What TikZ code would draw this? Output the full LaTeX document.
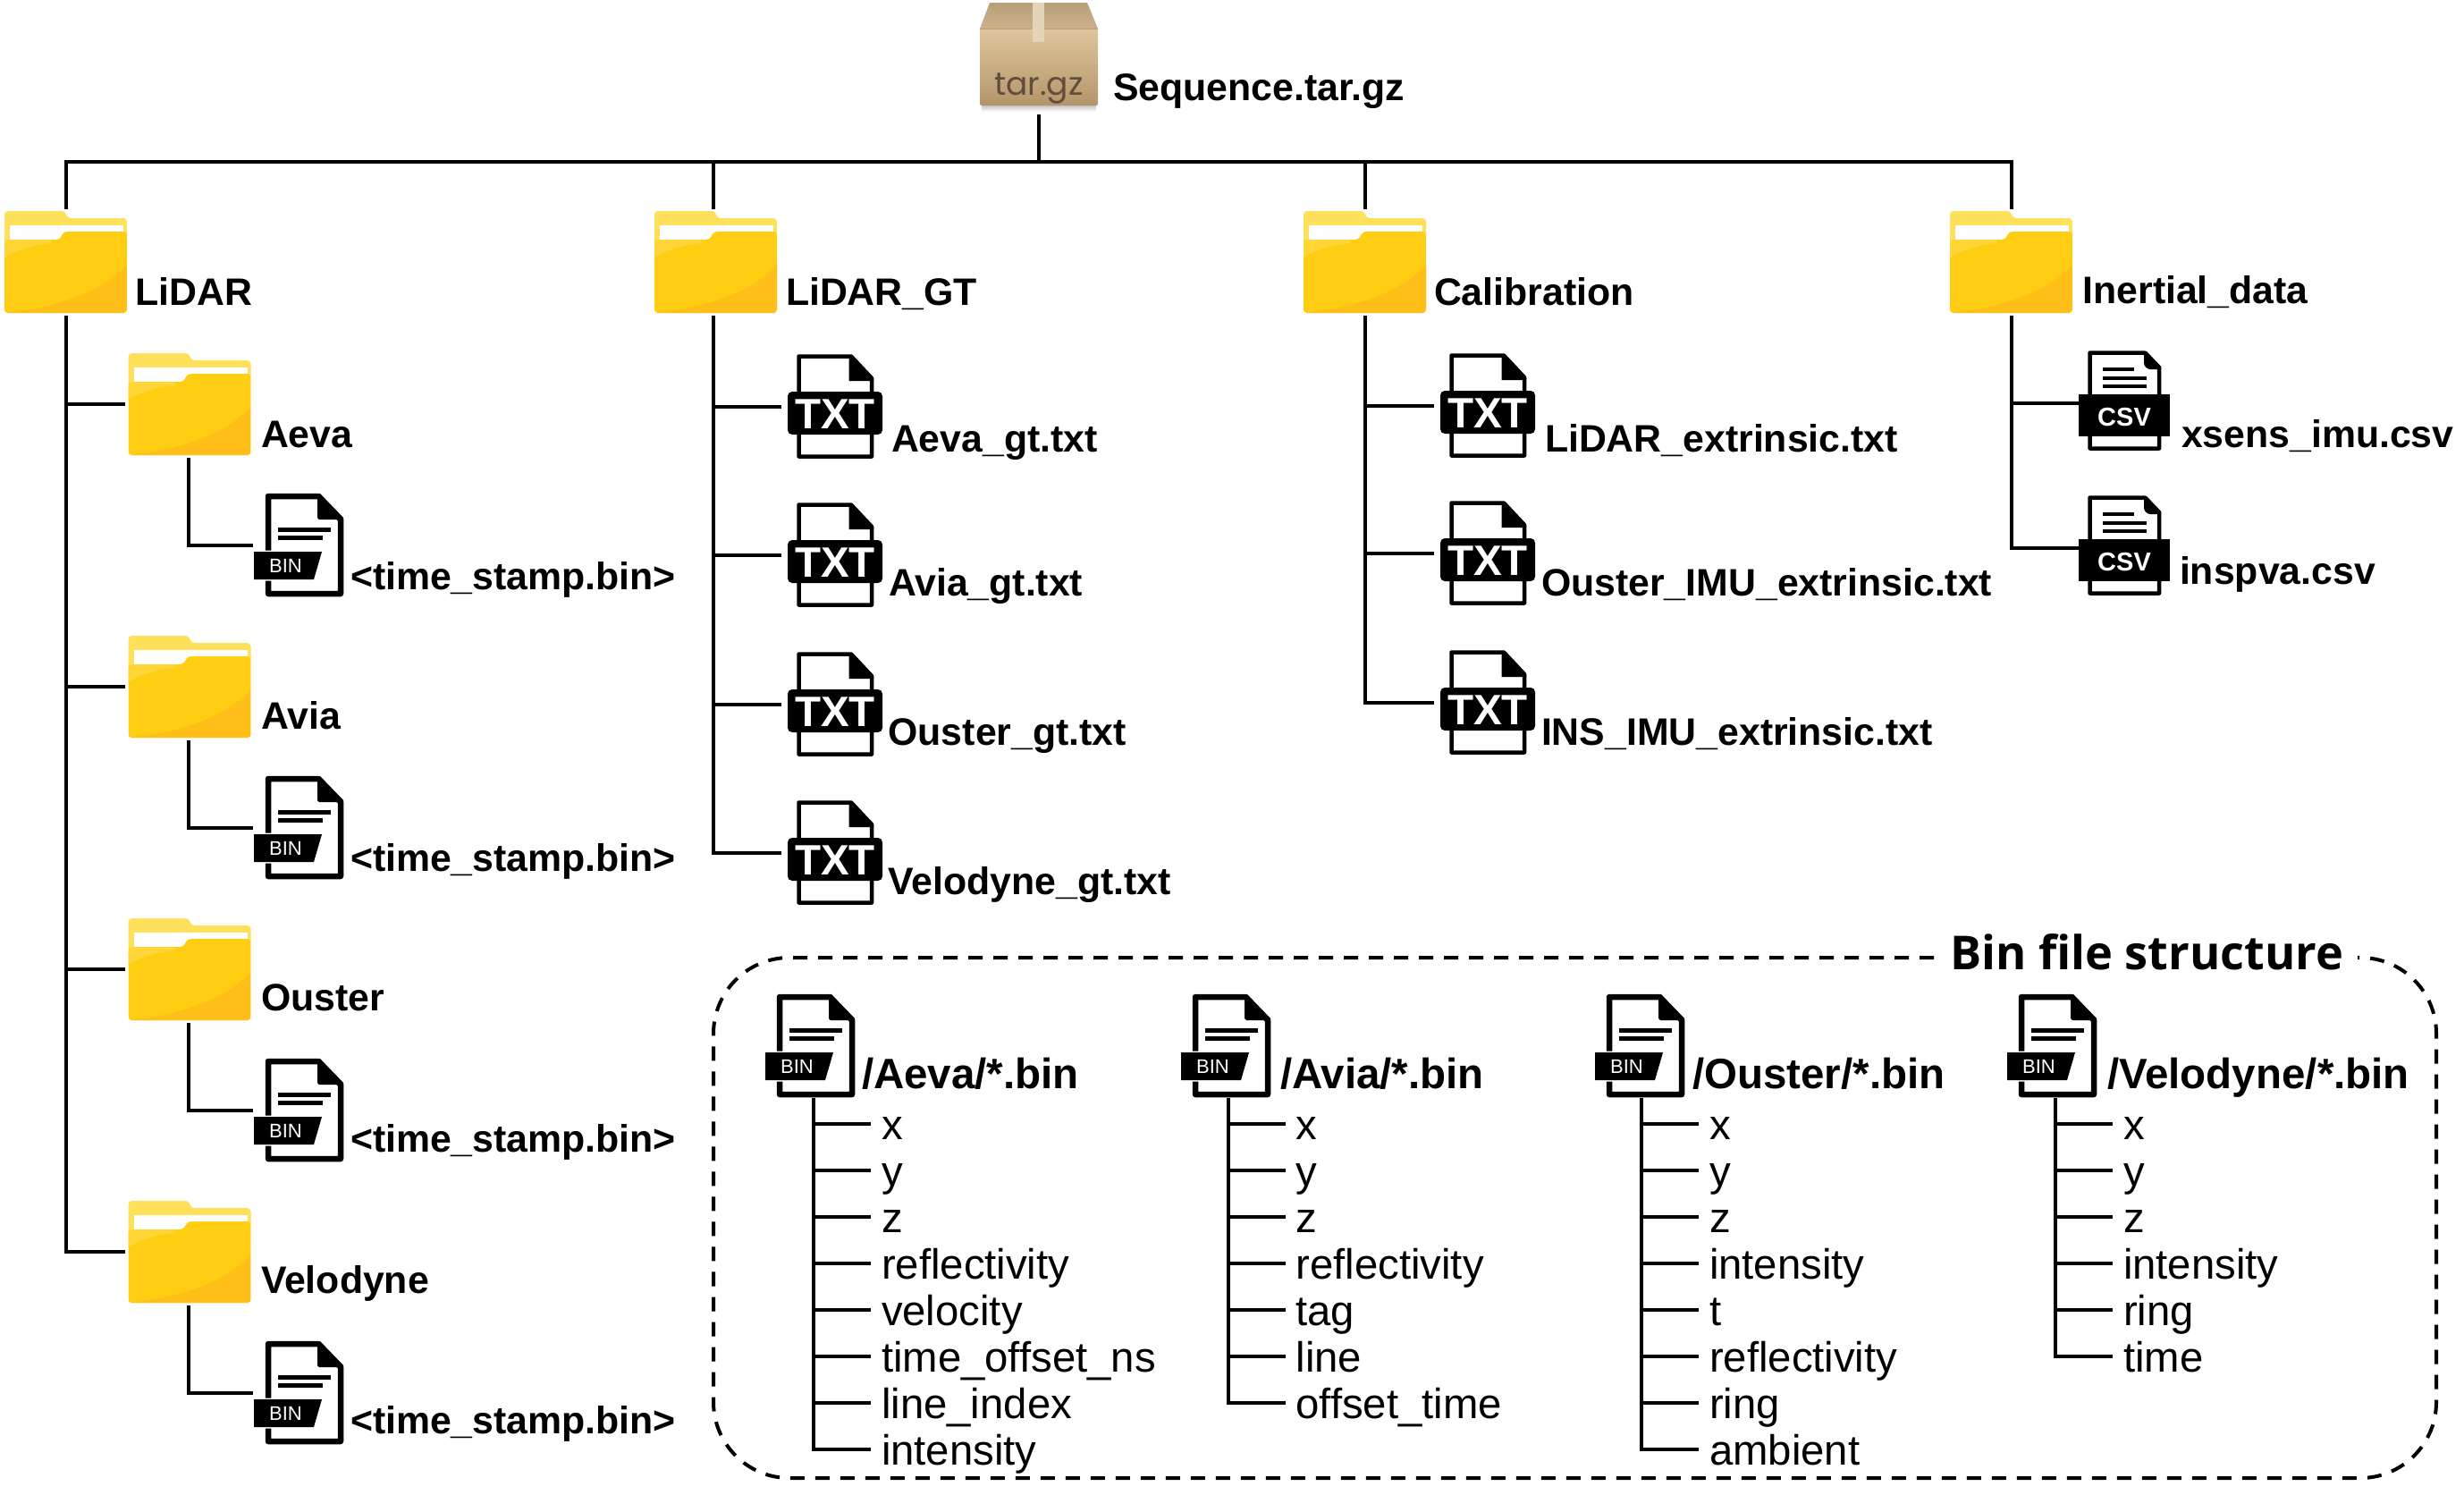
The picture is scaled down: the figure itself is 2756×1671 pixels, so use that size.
\documentclass[tikz,border=0pt]{standalone}
\usepackage{fontspec}
\setmainfont{Liberation Sans}
\newfontfamily\ttlfont{Open Sans}
\newfontfamily\pkgfont{Poppins}
\usetikzlibrary{calc}
\definecolor{fback}{HTML}{FFE05A}
\definecolor{ffront}{HTML}{FFCE12}
\definecolor{fdark}{HTML}{FFBE18}
\definecolor{flight}{HTML}{FFD636}
\definecolor{boxA}{HTML}{B99F78}
\definecolor{boxB}{HTML}{CBB28B}
\definecolor{boxC}{HTML}{DFC69C}
\definecolor{boxD}{HTML}{B4956B}
\definecolor{boxE}{HTML}{E4D5B9}
\definecolor{boxT}{HTML}{5F4E38}
\newcommand\labfont{\fontsize{42.8}{50}\selectfont\bfseries}
\newcommand\headfont{\fontsize{47.5}{54}\selectfont\bfseries}
\newcommand\itemfont{\fontsize{47.3}{54}\selectfont}
\tikzset{
  conn/.style={draw=black,line width=4pt},
  iconbox/.style={inner sep=0pt,outer sep=0pt,anchor=north west},
  lab/.style={anchor=base west,inner sep=0pt,outer sep=0pt,font=\labfont},
  head/.style={anchor=base west,inner sep=0pt,outer sep=0pt,font=\headfont},
  itemtxt/.style={anchor=base west,inner sep=0pt,outer sep=0pt,font=\itemfont,text height=40pt,text depth=4pt},
  frame/.style={draw=black,line width=4pt,dash pattern=on 16pt off 12pt,rounded corners=85pt},
}
% folder icon: name, left, top
\newcommand\fldr[3]{%
  \node[iconbox,minimum width=137pt,minimum height=114pt] (#1) at (#2,#3) {};
  \begin{scope}[shift={(#2,#3)}]
    \fill[fback,rounded corners=4pt] (0,114)--(0,0)--(68,0)--(70,8)--(137,8)--(137,114)--cycle;
    \fill[white] (6,16) rectangle (133,33);
    \begin{scope}
      \clip[rounded corners=4pt] (0,114)--(0,32)--(62,32)--(66,23)--(137,23)--(137,114)--cycle;
      \fill[ffront] (0,0) rectangle (137,114);
      \fill[flight] (0,32)--(52,32)--(52,36) .. controls (30,38) and (10,45) .. (0,52)--cycle;
      \fill[fdark] (0,114) .. controls (60,108) and (110,90) .. (137,60)--(137,114)--cycle;
    \end{scope}
  \end{scope}}
% BIN file icon: name, ribbon left, top
\newcommand\binic[3]{%
  \node[iconbox,minimum width=100pt,minimum height=115pt] (#1) at (#2,#3) {};
  \begin{scope}[shift={(#2,#3)}]
    \draw[line width=6.5pt,line join=round] (16,112)--(16,3)--(72,3)--(97,29)--(97,112)--cycle;
    \fill (71,0)--(74,0)--(100,27)--(100,29)--(73,29)--(71,27)--cycle;
    \fill (27,38) rectangle (86,42.5);
    \fill (27,47) rectangle (77,51.5);
    \draw[white,line width=3pt] (0,65)--(76,65)--(67,96)--(0,96)--cycle;
    \fill (0,65)--(76,65)--(67,96)--(0,96)--cycle;
    \node[inner sep=0pt,text=white,font=\fontsize{22}{24}\selectfont] at (35.5,81) {BIN};
  \end{scope}}
% TXT file icon: name, left, top
\newcommand\txtic[3]{%
  \node[iconbox,minimum width=106pt,minimum height=117pt] (#1) at (#2,#3) {};
  \begin{scope}[shift={(#2,#3)}]
    \draw[line width=4.5pt,line join=round] (12.5,114.5)--(12.5,2.5)--(71,2.5)--(94,27)--(94,114.5)--cycle;
    \fill (68.5,1)--(72,1)--(96,27)--(96,30)--(68.5,30)--cycle;
    \fill[rounded corners=5pt] (0,42) rectangle (106,90);
    \node[anchor=base,inner sep=0pt,text=white,font=\fontsize{47.5}{50}\selectfont\bfseries] at (53,83) {TXT};
  \end{scope}}
% CSV file icon: name, left, top
\newcommand\csvic[3]{%
  \node[iconbox,minimum width=102pt,minimum height=112pt] (#1) at (#2,#3) {};
  \begin{scope}[shift={(#2,#3)}]
    \draw[line width=4.5pt,line join=round] (12.5,109.5)--(12.5,2.5)--(74,2.5)--(90,19)--(90,109.5)--cycle;
    \fill (73,1)--(76,1)--(92,18)--(92,21)--(80,21) .. controls (76,21) and (73,17) .. (73,14)--cycle;
    \fill (27,19) rectangle (62,23);
    \fill (27,29) rectangle (76,33);
    \fill (27,38) rectangle (76,42);
    \fill (0,49) rectangle (102,96);
    \node[anchor=base,inner sep=0pt,text=white,font=\fontsize{29}{31}\selectfont\bfseries] at (51,84) {CSV};
  \end{scope}}
% field list: id, ribbon left, head x, head text, trunk x, items (item text sits 76 right of the trunk)
\newcommand\fieldlist[6]{%
  \binic{#1}{#2}{1112}
  \node[head] (#1h) at (#3,1217) {#4};
  \coordinate (#1t) at (#5,1228);
  \foreach \itm [count=\ii] in {#6} {
    \pgfmathsetmacro\yy{1274.5+52*(\ii-1)}
    \node[itemtxt] (#1-\ii) at ($(#1t |- 0,\yy)+(76,0)$) {\itm};
    \draw[conn] (#1t) |- ([xshift=-12pt]#1-\ii.west);
  }}
\begin{document}
\begin{tikzpicture}[x=1pt,y=-1pt]
\useasboundingbox (0,0) rectangle (2756,1671);
\fill[white] (0,0) rectangle (2756,1671);

% package
\node[iconbox,minimum width=132pt,minimum height=115pt] (seq) at (1096,3) {};
\shade[top color=gray!45,bottom color=white] (1098,118) rectangle (1226,125);
\shade[top color=boxC,bottom color=boxD,rounded corners=2pt] (1096,32) rectangle (1228,118);
\shade[top color=boxA,bottom color=boxB] (1107,3)--(1216,3)--(1228,32)--(1096,32)--cycle;
\draw[boxD!85!white,line width=1.2pt] (1096,32)--(1228,32);
\fill[boxE] (1155,3) rectangle (1168,47);
\node[anchor=base,inner sep=0pt,text=boxT,font=\pkgfont\fontsize{36}{38}\selectfont] (pk) at (1162,106) {tar.gz};
\node[lab] (seqlab) at (1245,112) {Sequence.tar.gz};

% folders, first level
\fldr{lidar}{5}{236}
\fldr{gt}{732}{236}
\fldr{calib}{1458}{236}
\fldr{inert}{2181}{236}
\node[lab] (llidar) at (151.5,341) {LiDAR};
\node[lab] (lgt) at (879,341) {LiDAR\_GT};
\node[lab] (lcalib) at (1604,341) {Calibration};
\node[lab] (linert) at (2329.5,339) {Inertial\_data};

\coordinate (bus) at (1162,181);
\draw[conn] ([yshift=-10pt]seq.south) -- (seq.south |- bus);
\draw[conn] ([yshift=2pt]lidar.north) |- (bus) -| ([yshift=2pt]inert.north);
\draw[conn] ([xshift=-2.5pt,yshift=2pt]gt.north) -- ([xshift=-2.5pt]gt.north |- bus);
\draw[conn] ([yshift=2pt]calib.north) -- (calib.north |- bus);

% LiDAR subfolders
\fldr{aeva}{143.5}{395}
\fldr{avia}{143.5}{711}
\fldr{ouster}{143.5}{1027}
\fldr{velo}{143.5}{1343}
\node[lab] (laeva) at (292,500) {Aeva};
\node[lab] (lavia) at (292,815.5) {Avia};
\node[lab] (louster) at (292,1130) {Ouster};
\node[lab] (lvelo) at (292,1446) {Velodyne};
\binic{baeva}{284}{552}
\binic{bavia}{284}{868}
\binic{bouster}{284}{1184}
\binic{bvelo}{284}{1500}
\node[lab] (sa) at (392,659) {<time\_stamp.bin>};
\node[lab] (sb) at (392,974) {<time\_stamp.bin>};
\node[lab] (sc) at (392,1288.5) {<time\_stamp.bin>};
\node[lab] (sd) at (392,1603.5) {<time\_stamp.bin>};
\foreach \fdn/\bnm in {aeva/baeva,avia/bavia,ouster/bouster,velo/bvelo} {
  \draw[conn] ([yshift=-3pt]lidar.south) |- ([xshift=-4pt]\fdn.west);
  \draw[conn] ([xshift=-1.5pt,yshift=-3pt]\fdn.south) |- ([xshift=-1pt]\bnm.west);
}

% LiDAR_GT files
\txtic{ga}{881}{396}
\txtic{gb}{881}{562}
\txtic{gc}{881}{729}
\txtic{gd}{881}{895}
\node[lab] (lga) at (997,505) {Aeva\_gt.txt};
\node[lab] (lgb) at (994,666) {Avia\_gt.txt};
\node[lab] (lgc) at (993.5,833) {Ouster\_gt.txt};
\node[lab] (lgd) at (993.5,1000) {Velodyne\_gt.txt};
\foreach \fnm in {ga,gb,gc,gd} {
  \draw[conn] ([xshift=-2.5pt,yshift=-3pt]gt.south) |- ([xshift=-7pt]\fnm.west);
}

% Calibration files
\txtic{ca}{1611}{395}
\txtic{cb}{1611}{560}
\txtic{cc}{1611}{727}
\node[lab] (lca) at (1728,505) {LiDAR\_extrinsic.txt};
\node[lab] (lcb) at (1724,666) {Ouster\_IMU\_extrinsic.txt};
\node[lab] (lcc) at (1724,833) {INS\_IMU\_extrinsic.txt};
\foreach \fnm in {ca,cb,cc} {
  \draw[conn] ([yshift=-3pt]calib.south) |- ([xshift=-7pt]\fnm.west);
}

% Inertial files
\csvic{ia}{2325}{392}
\csvic{ib}{2325}{554}
\node[lab] (lia) at (2440,500) {xsens\_imu.csv};
\node[lab] (lib) at (2438,653) {inspva.csv};
\foreach \fnm in {ia,ib} {
  \draw[conn] ([yshift=-3pt]inert.south) |- ([yshift=-3pt]\fnm.west);
}

% Bin file structure frame
\draw[frame] (2163,1071)--(798,1071)--(798,1653)--(2725,1653)--(2725,1071)--(2637,1071);
\node[anchor=base west,inner sep=0pt,font=\ttlfont\fontsize{52.3}{56}\selectfont\bfseries] (ttl) at (2181,1084) {Bin file structure};

\fieldlist{fa}{856}{964}{/Aeva/*.bin}{910}{x,y,z,reflectivity,velocity,time\_offset\_ns,line\_index,intensity}
\fieldlist{fb}{1321}{1432}{/Avia/*.bin}{1373.5}{x,y,z,reflectivity,tag,line,offset\_time}
\fieldlist{fc}{1784}{1893}{/Ouster/*.bin}{1836}{x,y,z,intensity,t,reflectivity,ring,ambient}
\fieldlist{fd}{2245}{2357}{/Velodyne/*.bin}{2299}{x,y,z,intensity,ring,time}
\end{tikzpicture}
\end{document}
